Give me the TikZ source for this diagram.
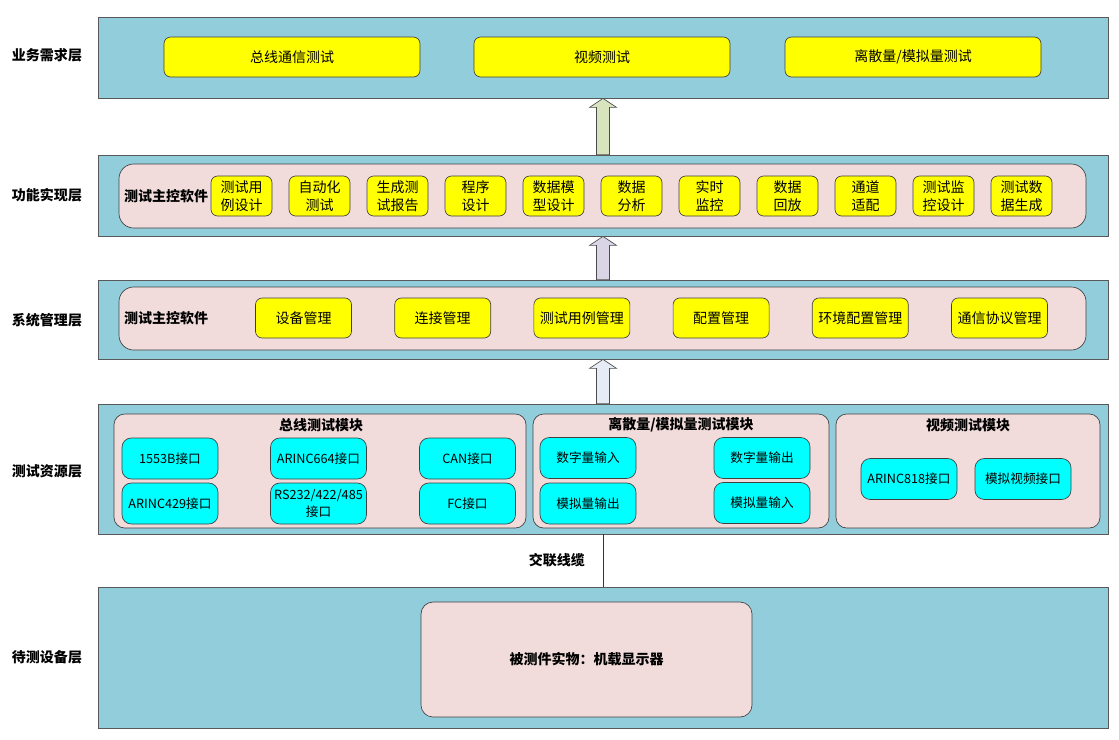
\documentclass[tikz,border=0pt]{standalone}
\usepackage{fontspec}
\setmainfont{Noto Sans CJK SC}
\usetikzlibrary{calc}
\definecolor{layerblue}{RGB}{146,205,220}
\definecolor{softpink}{RGB}{242,220,219}
\definecolor{boxcyan}{RGB}{0,255,255}
\definecolor{boxyellow}{RGB}{255,255,0}
\definecolor{arrgreen}{RGB}{215,228,189}
\definecolor{arrlilac}{RGB}{217,213,230}
\definecolor{arrpale}{RGB}{230,235,245}
% block arrow from lower layer #1 up to layer #2
\newcommand{\layerarrow}[3]{%
  \draw[blockarr,fill=#3] ($(#1.north)+(-6.5,0)$) -- ($(#2.south)+(-6.5,9)$) -- ($(#2.south)+(-13.5,9)$)
    -- (#2.south) -- ($(#2.south)+(13.5,9)$) -- ($(#2.south)+(6.5,9)$) -- ($(#1.north)+(6.5,0)$) -- cycle;}
\begin{document}
\begin{tikzpicture}[x=0.75pt,y=-0.75pt,
    layer/.style={draw=black!65,fill=layerblue,minimum width=757.5pt,line width=0.6pt,inner sep=0pt},
    softbox/.style={draw=black!75,fill=softpink,rounded corners=8pt,line width=0.5pt,inner sep=0pt},
    ybox/.style={draw=black!75,fill=boxyellow,rounded corners=5pt,minimum height=30pt,line width=0.5pt,
      font=\fontsize{10.5}{13.5}\selectfont,align=center,inner sep=1pt},
    cbox/.style={draw=black!75,fill=boxcyan,rounded corners=7pt,minimum width=72pt,minimum height=30.75pt,line width=0.5pt,
      font=\fontsize{9.5}{12.5}\selectfont,align=center,inner sep=1pt},
    tag/.style={font=\bfseries\fontsize{10.5}{13}\selectfont},
    blockarr/.style={draw=black!70,line width=0.5pt}]

    \useasboundingbox (0,0) rectangle (1119,739);

    % Layers
    \node[layer,minimum height=60.75pt] (L1) at (603,57.5) {};
    \node[layer,minimum height=60.75pt] (L2) at (603,195.5) {};
    \node[layer,minimum height=59.25pt] (L3) at (603,319.5) {};
    \node[layer,minimum height=97.5pt] (L4) at (603,469) {};
    \node[layer,minimum height=105.75pt] (L5) at (603,657.5) {};

    % Layer names
    \node[tag] (t1) at (47,55) {业务需求层};
    \node[tag] (t2) at (47,195) {功能实现层};
    \node[tag] (t3) at (47,320) {系统管理层};
    \node[tag] (t4) at (47,471) {测试资源层};
    \node[tag] (t5) at (47,657) {待测设备层};

    % Business layer
    \node[ybox,minimum width=192pt] (need1) at (292,57) {总线通信测试};
    \node[ybox,minimum width=192pt] (need2) at (602,57) {视频测试};
    \node[ybox,minimum width=192pt] (need3) at (913,57) {离散量/模拟量测试};

    % Function layer
    \node[softbox,rounded corners=11pt,minimum width=725.25pt,minimum height=48pt] (sw2) at (602.5,196) {};
    \node[tag] (sw2t) at (166,196) {测试主控软件};
    \foreach \t [count=\i from 0] in {测试用\\例设计,自动化\\测试,生成测\\试报告,程序\\设计,数据模\\型设计,
        数据\\分析,实时\\监控,数据\\回放,通道\\适配,测试监\\控设计,测试数\\据生成}
      \node[ybox,minimum width=45.75pt] (f\i) at ({241.5+78*\i},196) {\t};

    % System layer
    \node[softbox,rounded corners=11pt,minimum width=725.25pt,minimum height=47.25pt] (sw3) at (602.5,318.5) {};
    \node[tag] (sw3t) at (166,318) {测试主控软件};
    \foreach \t [count=\i from 0] in {设备管理,连接管理,测试用例管理,配置管理,环境配置管理,通信协议管理}
      \node[ybox,minimum width=72pt] (m\i) at ({303.5+139.2*\i},318) {\t};

    % Resource layer
    \node[softbox,minimum width=309pt,minimum height=85.5pt] (bus) at (320,471) {};
    \node[softbox,minimum width=222pt,minimum height=85.5pt] (dis) at (681,471) {};
    \node[softbox,minimum width=198pt,minimum height=85.5pt] (vid) at (968,471) {};
    \node[tag] (bust) at (321,425) {总线测试模块};
    \node[tag] (dist) at (681,425) {离散量/模拟量测试模块};
    \node[tag] (vidt) at (968,425) {视频测试模块};

    \node[cbox] (c1) at (170,458.5) {1553B接口};
    \node[cbox] (c2) at (318.5,458.5) {ARINC664接口};
    \node[cbox] (c3) at (467.5,458.5) {CAN接口};
    \node[cbox] (c4) at (170,503.5) {ARINC429接口};
    \node[cbox] (c5) at (318.5,503.5) {RS232/422/485\\接口};
    \node[cbox] (c6) at (467.5,503.5) {FC接口};

    \node[cbox] (d1) at (588,458) {数字量输入};
    \node[cbox] (d2) at (762,458) {数字量输出};
    \node[cbox] (d3) at (588,503.5) {模拟量输出};
    \node[cbox] (d4) at (762,503) {模拟量输入};

    \node[cbox] (v1) at (909,479) {ARINC818接口};
    \node[cbox] (v2) at (1023,479) {模拟视频接口};

    % Device under test
    \node[softbox,rounded corners=9pt,minimum width=248.25pt,minimum height=86.25pt,tag] (dut) at (586.5,659.5) {被测件实物：机载显示器};

    % Arrows between layers
    \layerarrow{L2}{L1}{arrgreen}
    \layerarrow{L3}{L2}{arrlilac}
    \layerarrow{L4}{L3}{arrpale}

    % Cable
    \draw[line width=0.6pt,black!80] (L4.south) -- (L5.north) node[midway,left=10pt,tag,black] (cable) {交联线缆};

\end{tikzpicture}
\end{document}
